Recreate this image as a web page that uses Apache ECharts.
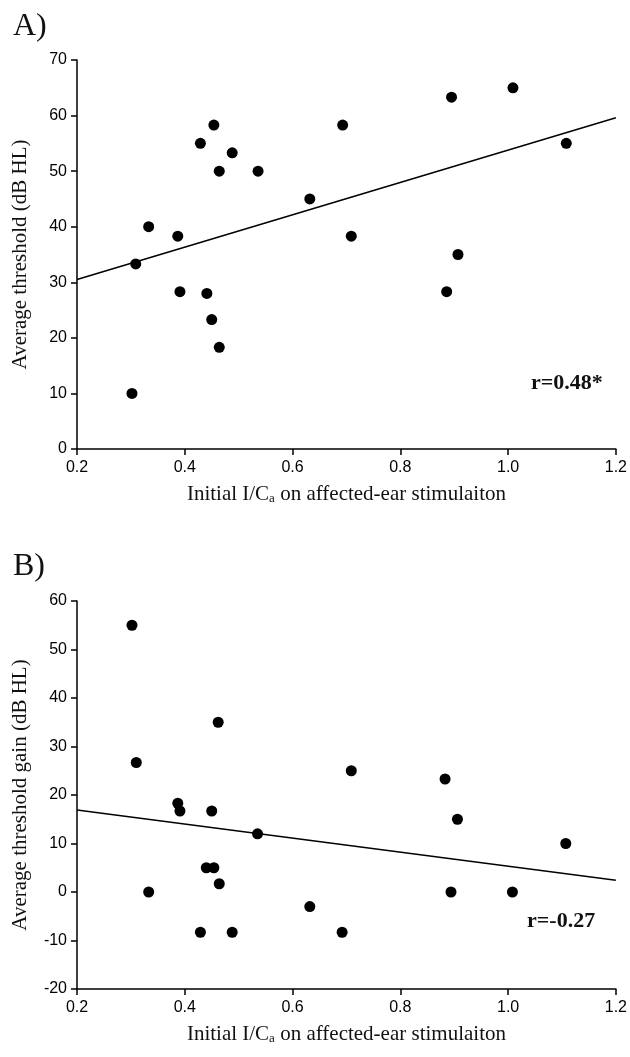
<!DOCTYPE html>
<html>
<head>
<meta charset="utf-8">
<script src="https://cdn.jsdelivr.net/npm/echarts@6/dist/echarts.min.js"></script>
<style>
html,body{margin:0;padding:0;background:#fff;}
#chart{width:630px;height:1057px;}
</style>
</head>
<body>
<div id="chart"></div>
<script>
// Initial I/Ca on affected-ear stimulation (x values, shared by both panels)
const icaA = [0.302, 0.309, 0.333, 0.387, 0.391, 0.429, 0.441, 0.450, 0.454, 0.464, 0.464, 0.488, 0.536, 0.632, 0.693, 0.709, 0.886, 0.895, 0.907, 1.009, 1.108];
const thresholdA = [10, 33.3, 40, 38.3, 28.3, 55, 28, 23.3, 58.3, 50, 18.3, 53.3, 50, 45, 58.3, 38.3, 28.3, 63.3, 35, 65, 55];
const fitA = [[0.2, 30.5], [1.2, 59.6]];

const icaB = [0.302, 0.310, 0.333, 0.387, 0.391, 0.429, 0.440, 0.450, 0.454, 0.462, 0.464, 0.488, 0.535, 0.632, 0.692, 0.709, 0.883, 0.894, 0.906, 1.008, 1.107];
const gainB = [55, 26.7, 0, 18.3, 16.7, -8.3, 5, 16.7, 5, 35, 1.7, -8.3, 12, -3, -8.3, 25, 23.3, 0, 15, 0, 10];
const fitB = [[0.2, 16.9], [1.2, 2.4]];

const panelLabels = ['A)', 'B)'];
const rLabels = ['r=0.48*', 'r=-0.27'];
const yNames = ['Average threshold (dB HL)', 'Average threshold gain (dB HL)'];

const serif = '"Liberation Serif","Times New Roman",serif';
const sans = '"Liberation Sans",Arial,sans-serif';

function pairs(xs, ys){ return xs.map((x,i)=>[x, ys[i]]); }

function xAxis(gi){
  return {
    type:'value', gridIndex:gi, min:0.2, max:1.2, interval:0.2,
    splitLine:{show:false},
    axisLine:{onZero:false, lineStyle:{color:'#000', width:1.5}},
    axisTick:{inside:false, length:6, lineStyle:{color:'#000', width:1.5}},
    axisLabel:{color:'#000', fontFamily:sans, fontSize:16, margin:11, formatter:v=>v.toFixed(1)},
    name:'{n|Initial I/C}{s|a}{n| on affected-ear stimulaiton}',
    nameLocation:'middle', nameGap:35,
    nameTextStyle:{rich:{
      n:{fontFamily:serif, fontSize:21, color:'#111'},
      s:{fontFamily:serif, fontSize:13, color:'#111', verticalAlign:'bottom', padding:[8,0,0,0]}
    }}
  };
}
function yAxis(gi, min, max, name){
  return {
    type:'value', gridIndex:gi, min:min, max:max, interval:10,
    splitLine:{show:false},
    axisLine:{onZero:false, lineStyle:{color:'#000', width:1.5}},
    axisTick:{inside:false, length:6, lineStyle:{color:'#000', width:1.5}},
    axisLabel:{color:'#000', fontFamily:sans, fontSize:16, margin:10},
    name:name, nameLocation:'middle', nameGap:46, nameRotate:90,
    nameTextStyle:{fontFamily:serif, fontSize:21, color:'#111'}
  };
}

const chart = echarts.init(document.getElementById('chart'), null, {renderer:'canvas'});
chart.setOption({
  backgroundColor:'#fff',
  animation:false,
  title:[
    {text:panelLabels[0], left:8, top:6, textStyle:{fontFamily:serif, fontSize:32, fontWeight:'normal', color:'#111'}},
    {text:panelLabels[1], left:8, top:546, textStyle:{fontFamily:serif, fontSize:32, fontWeight:'normal', color:'#111'}},
    {text:rLabels[0], left:526, top:367, textStyle:{fontFamily:serif, fontSize:22, fontWeight:'bold', color:'#111'}},
    {text:rLabels[1], left:522, top:905, textStyle:{fontFamily:serif, fontSize:22, fontWeight:'bold', color:'#111'}}
  ],
  grid:[
    {left:77, right:13, top:60, height:389},
    {left:77, right:13, top:601, height:388}
  ],
  xAxis:[xAxis(0), xAxis(1)],
  yAxis:[yAxis(0, 0, 70, yNames[0]), yAxis(1, -20, 60, yNames[1])],
  series:[
    {type:'line', xAxisIndex:0, yAxisIndex:0, data:fitA, symbol:'none', lineStyle:{color:'#000', width:1.5}, z:1},
    {type:'scatter', xAxisIndex:0, yAxisIndex:0, data:pairs(icaA, thresholdA), symbolSize:11, itemStyle:{color:'#000', opacity:1}, z:2},
    {type:'line', xAxisIndex:1, yAxisIndex:1, data:fitB, symbol:'none', lineStyle:{color:'#000', width:1.5}, z:1},
    {type:'scatter', xAxisIndex:1, yAxisIndex:1, data:pairs(icaB, gainB), symbolSize:11, itemStyle:{color:'#000', opacity:1}, z:2}
  ]
});
</script>
</body>
</html>
